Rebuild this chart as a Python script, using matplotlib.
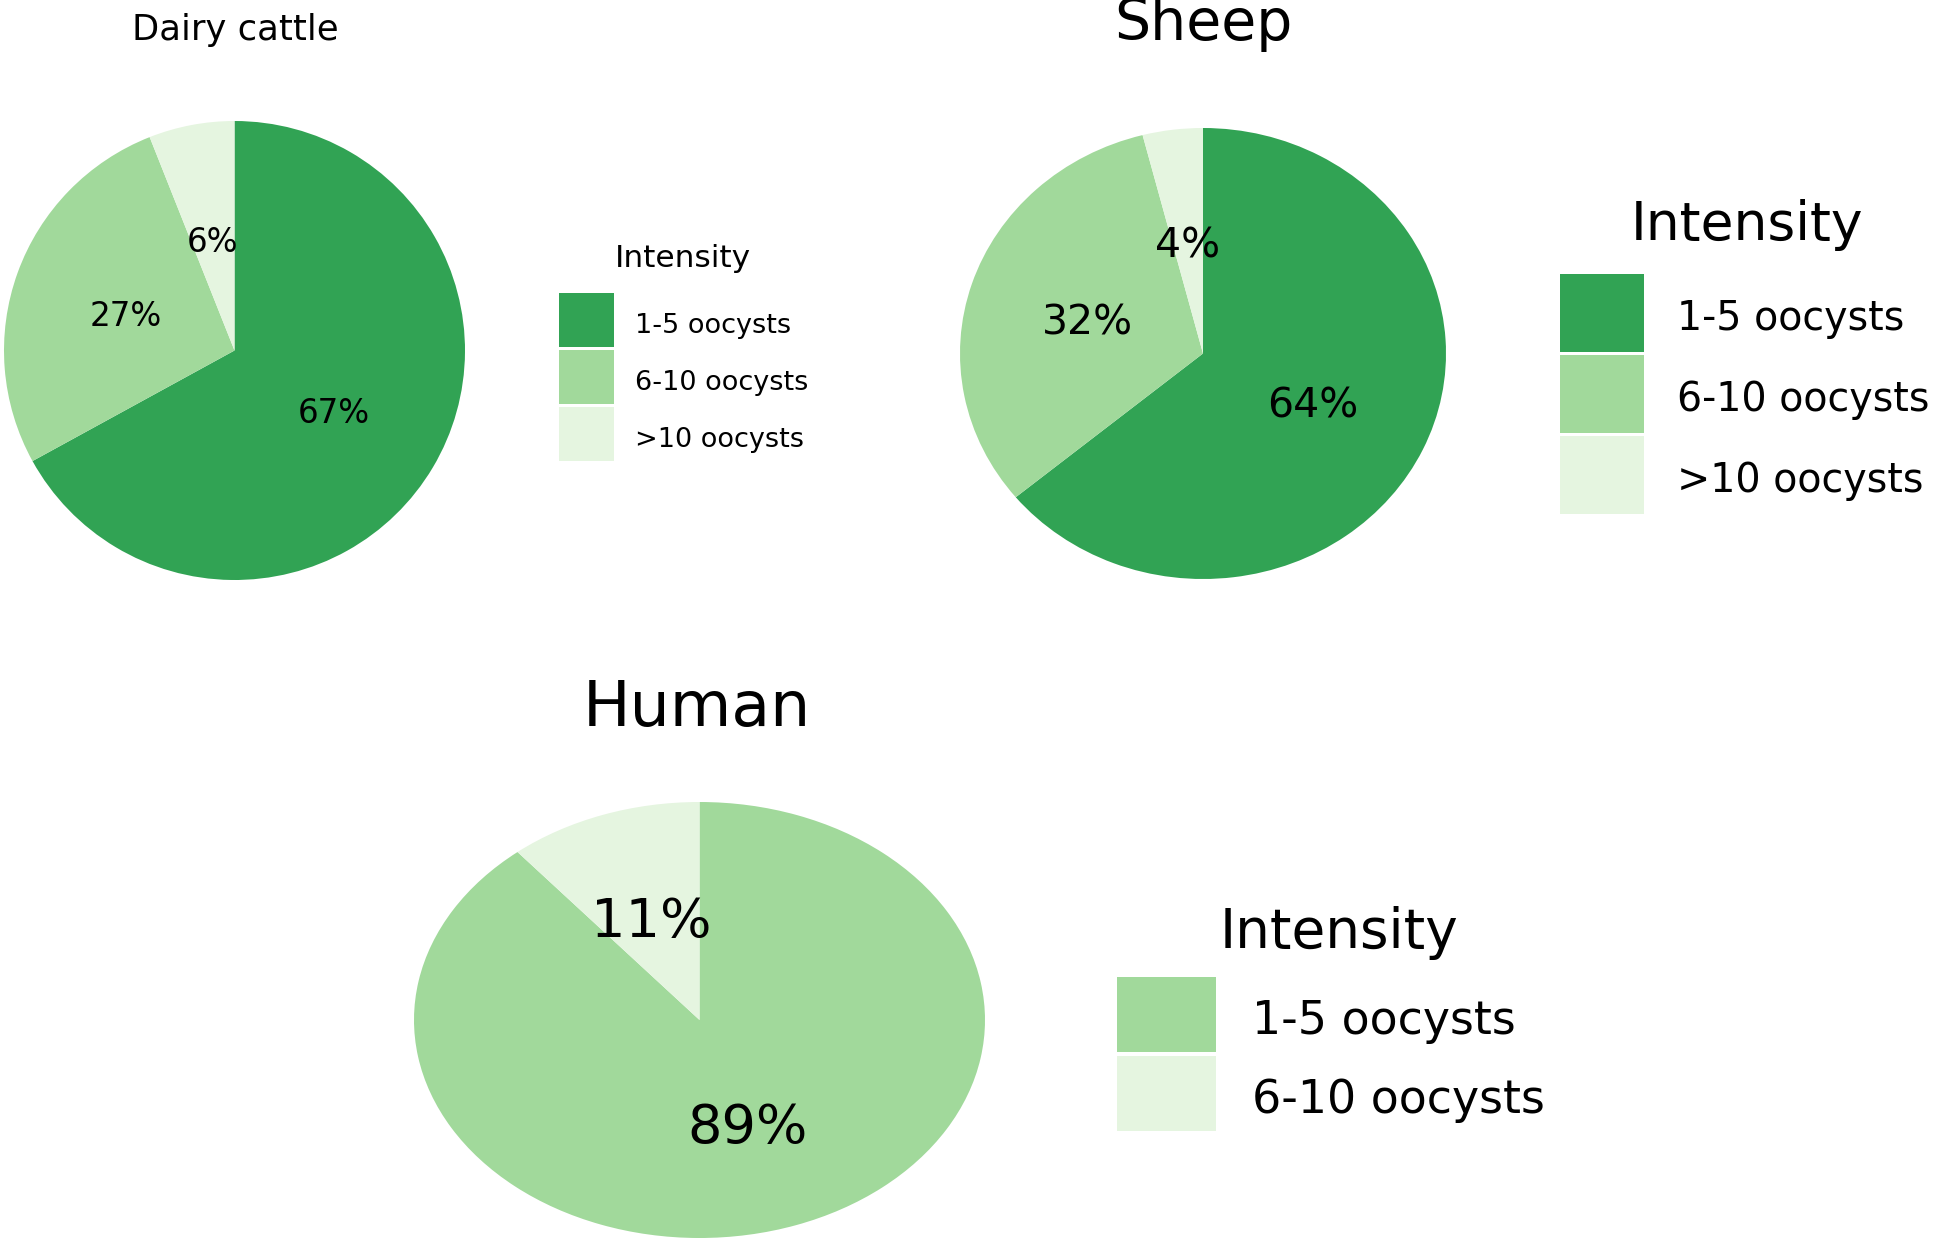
import matplotlib
matplotlib.use("Agg")
import matplotlib.pyplot as plt
from matplotlib.patches import Patch
from matplotlib.transforms import ScaledTranslation

# Data
#---------------------------
cats_animal = ["1-5 oocysts", "6-10 oocysts", ">10 oocysts"]
dairy_pct = [67, 27, 6]
sheep_pct = [64, 32, 4]

cats_human = ["1-5 oocysts", "6-10 oocysts"]
human_pct = [89, 11]

greens = ["#31a354", "#a1d99b", "#e5f5e0"]

# Figure
#---------------------------
W, H = 1944, 1239
DPI = 100
plt.rcParams['font.family'] = ['DejaVu Sans']
fig = plt.figure(figsize=(W / DPI, H / DPI), dpi=DPI)

def px_box(left, top, right, bottom):
    # pixel box -> figure fraction [l, b, w, h]
    return [left / W, 1 - bottom / H, (right - left) / W, (bottom - top) / H]

def fig_xy(x, y):
    return x / W, 1 - y / H

def nudge_down(text, pixels):
    text.set_transform(text.get_transform() +
                       ScaledTranslation(0, -pixels / DPI, fig.dpi_scale_trans))

def draw_pie(box, values, colors, pct_size):
    ax = fig.add_axes(px_box(*box))
    _, _, autotexts = ax.pie(values, colors=colors, startangle=90, counterclock=False,
                             autopct=lambda p: "{:.0f}%".format(p), pctdistance=0.5,
                             textprops={'fontsize': pct_size, 'color': 'black'})
    for t in autotexts:
        nudge_down(t, 5)
    ax.set_aspect('auto')   # the original pies are stretched
    ax.set_xlim(-1, 1)
    ax.set_ylim(-1, 1)
    ax.axis('off')
    return ax

def draw_legend(ax, labels, colors, key_xy, key_w, key_h, gap, fs, textpad):
    # key sizes in pixels -> legend units (points / fontsize)
    k_h = key_h * 72 / DPI
    hh = (k_h / fs - 0.245) / 0.65
    hl = key_w * 72 / DPI / fs
    handles = [Patch(facecolor=c, edgecolor='none') for c in colors]
    leg = ax.legend(handles, labels, loc='upper left',
                    bbox_to_anchor=fig_xy(*key_xy), bbox_transform=fig.transFigure,
                    frameon=False, fontsize=fs, borderpad=0, borderaxespad=0,
                    handlelength=hl, handleheight=hh,
                    labelspacing=gap * 72 / DPI / fs,
                    handletextpad=textpad * 72 / DPI / fs)
    for t in leg.get_texts():
        nudge_down(t, 5)

# Dairy cattle
ax1 = draw_pie((4, 121, 465, 580), dairy_pct, greens, 23.5)
draw_legend(ax1, cats_animal, greens, (559, 293), 55, 54, 3, 19.5, 21)
fig.text(*fig_xy(235, 40), "Dairy cattle", ha='center', va='baseline', fontsize=25.5)
fig.text(*fig_xy(683, 267), "Intensity", ha='center', va='baseline', fontsize=22.5)

# Sheep
ax2 = draw_pie((960, 128, 1446, 579), sheep_pct, greens, 29.5)
draw_legend(ax2, cats_animal, greens, (1560, 274), 84, 78, 3, 28.5, 33)
fig.text(*fig_xy(1203, 40), "Sheep", ha='center', va='baseline', fontsize=41)
fig.text(*fig_xy(1747, 240), "Intensity", ha='center', va='baseline', fontsize=38.5)

# Human
ax3 = draw_pie((414, 802, 985, 1238), human_pct, greens[1:], 39)
draw_legend(ax3, cats_human, greens[1:], (1117, 977), 99, 75, 4, 33, 36)
fig.text(*fig_xy(697, 726), "Human", ha='center', va='baseline', fontsize=45.5)
fig.text(*fig_xy(1339, 948), "Intensity", ha='center', va='baseline', fontsize=39.5)

plt.savefig("out.png", dpi=DPI)
